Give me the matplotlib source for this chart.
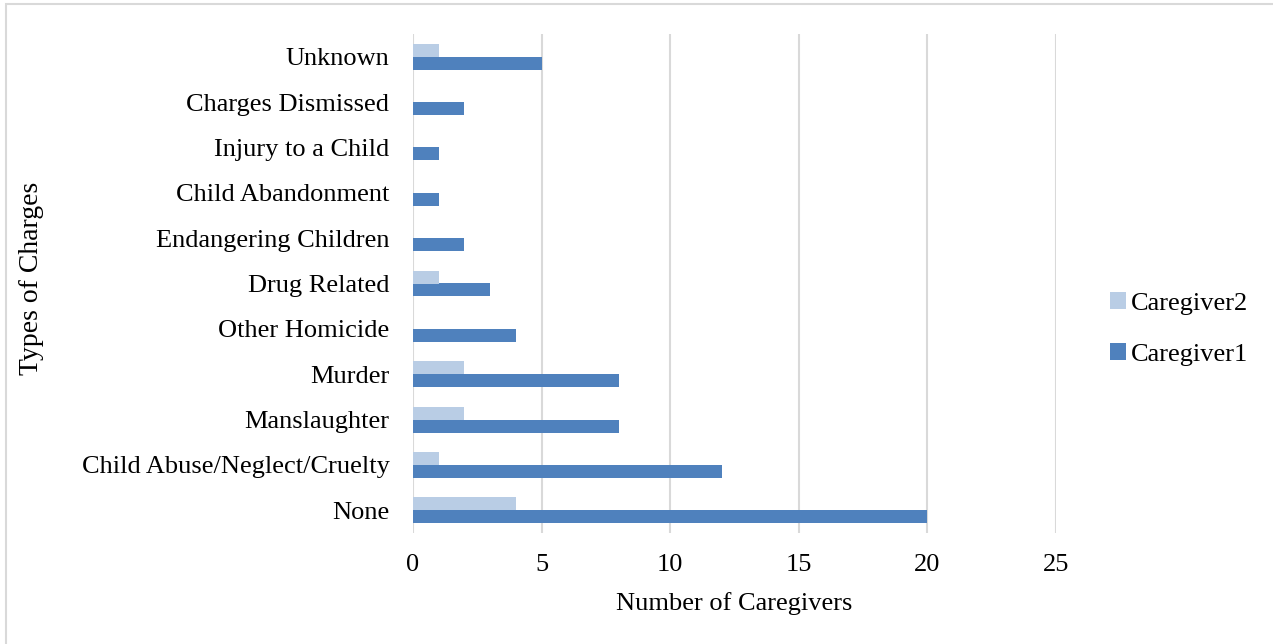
import matplotlib
matplotlib.use("Agg")
import matplotlib.pyplot as plt
from matplotlib.patches import Rectangle
import numpy as np

plt.rcParams['font.family'] = ['Liberation Serif', 'DejaVu Serif']

categories = ["None", "Child Abuse/Neglect/Cruelty", "Manslaughter", "Murder",
              "Other Homicide", "Drug Related", "Endangering Children",
              "Child Abandonment", "Injury to a Child", "Charges Dismissed", "Unknown"]
caregiver1 = [20, 12, 8, 8, 4, 3, 2, 1, 1, 2, 5]
caregiver2 = [4, 1, 2, 2, 0, 1, 0, 0, 0, 0, 1]
x_ticks = [0, 5, 10, 15, 20, 25]

c1_color = "#4F81BD"
c2_color = "#B9CDE5"
grid_color = "#D9D9D9"
fs = 19

fig = plt.figure(figsize=(12.73, 6.44), dpi=100)
ax = fig.add_axes([413/1273, 1 - 533/644, (1056 - 413)/1273, (533 - 34)/644])

y = np.arange(len(categories))
h = 0.285
ax.barh(y - h/2, caregiver1, height=h, color=c1_color, label="Caregiver1", zorder=3)
ax.barh(y + h/2, caregiver2, height=h, color=c2_color, label="Caregiver2", zorder=3)

ax.set_xlim(0, 25)
ax.set_ylim(-0.5, len(categories) - 0.5)
ax.set_xticks(x_ticks)
ax.set_yticks(y)
ax.set_yticklabels(categories)
ax.tick_params(axis='both', length=0, labelsize=fs, colors="#000000")
ax.tick_params(axis='y', pad=17)
ax.tick_params(axis='x', pad=15)
ax.xaxis.grid(True, color=grid_color, linewidth=1.5, zorder=0)
for s in ax.spines.values():
    s.set_visible(False)

ax.set_xlabel("Number of Caregivers", fontsize=fs, labelpad=12)
fig.text(32/1273, 1 - 278/644, "Types of Charges", rotation=90, fontsize=20,
         ha='center', va='center')

handles, labels = ax.get_legend_handles_labels()
fig.legend(handles[::-1], labels[::-1], loc='center left',
           bbox_to_anchor=(1086/1273, 1 - 329/644), frameon=False,
           fontsize=fs, handlelength=0.6, handleheight=0.6,
           handletextpad=0.2, labelspacing=1.05)

fig.patches.append(Rectangle((6/1273, -0.1), 1.2, 1 - 4/644 + 0.1,
                             transform=fig.transFigure, fill=False,
                             edgecolor="#D9D9D9", linewidth=1.5))

fig.savefig("out.png", dpi=100, facecolor="white")
